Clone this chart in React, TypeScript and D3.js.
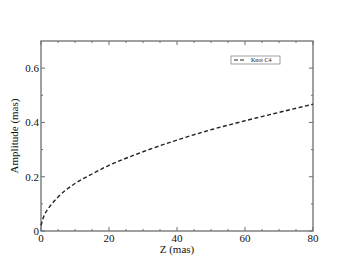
import { useEffect, useRef } from 'react';
import * as d3 from 'd3';

// Knot C4 amplitude profile
const zValues = [0, 1, 2, 5, 10, 15, 20, 25, 30, 40, 50, 60, 70, 80];
const amplitudeValues = [0.02, 0.06, 0.08, 0.125, 0.175, 0.21, 0.242, 0.268, 0.292, 0.335, 0.373, 0.406, 0.437, 0.467];
const xTicks = [0, 20, 40, 60, 80];
const yTicks = [0, 0.2, 0.4, 0.6];
const seriesName = 'Knot C4';

const W = 353;
const H = 273;
const FONT = '"Liberation Serif", "DejaVu Serif", serif';
const FRAME = '#6e6e6e';

export default function App() {
  const svgRef = useRef<SVGSVGElement>(null);

  useEffect(() => {
    if (!svgRef.current) return;
    const margin = { top: 41, right: 40, bottom: 42, left: 41 };
    const width = W - margin.left - margin.right;
    const height = H - margin.top - margin.bottom;

    const svg = d3.select(svgRef.current);
    svg.selectAll('*').remove();
    svg.append('rect').attr('width', W).attr('height', H).attr('fill', '#fff');

    const g = svg.append('g').attr('transform', `translate(${margin.left},${margin.top})`);

    const x = d3.scaleLinear().domain([0, 80]).range([0, width]);
    const y = d3.scaleLinear().domain([0, 0.7]).range([height, 0]);

    const majorLen = 4;
    const minorLen = 2;
    const xMinor = d3.range(0, 81, 5).filter(v => v % 20 !== 0);
    const yMinor = [0.1, 0.3, 0.5];

    // inward ticks on all four sides
    const ticks = g.append('g').attr('stroke', FRAME).attr('stroke-width', 1);
    const addX = (vals: number[], len: number) => {
      vals.forEach(v => {
        ticks.append('line').attr('x1', x(v)).attr('x2', x(v)).attr('y1', height).attr('y2', height - len);
        ticks.append('line').attr('x1', x(v)).attr('x2', x(v)).attr('y1', 0).attr('y2', len);
      });
    };
    const addY = (vals: number[], len: number) => {
      vals.forEach(v => {
        ticks.append('line').attr('y1', y(v)).attr('y2', y(v)).attr('x1', 0).attr('x2', len);
        ticks.append('line').attr('y1', y(v)).attr('y2', y(v)).attr('x1', width).attr('x2', width - len);
      });
    };
    addX(xTicks, majorLen);
    addX(xMinor, minorLen);
    addY(yTicks, majorLen);
    addY(yMinor, minorLen);

    g.append('rect')
      .attr('width', width)
      .attr('height', height)
      .attr('fill', 'none')
      .attr('stroke', FRAME)
      .attr('stroke-width', 1.3);

    // tick labels
    g.selectAll('.xl')
      .data(xTicks)
      .enter()
      .append('text')
      .attr('x', d => x(d))
      .attr('y', height + 11)
      .attr('text-anchor', 'middle')
      .attr('font-family', FONT)
      .attr('font-size', 11)
      .attr('fill', '#111')
      .text(d => d);

    g.selectAll('.yl')
      .data(yTicks)
      .enter()
      .append('text')
      .attr('x', -2)
      .attr('y', d => y(d) + 4)
      .attr('text-anchor', 'end')
      .attr('font-family', FONT)
      .attr('font-size', 11)
      .attr('fill', '#111')
      .text(d => (d === 0 ? '0' : d.toFixed(1)));

    // axis titles
    g.append('text')
      .attr('x', width / 2)
      .attr('y', height + 22)
      .attr('text-anchor', 'middle')
      .attr('font-family', FONT)
      .attr('font-size', 11)
      .attr('fill', '#111')
      .text('Z (mas)');

    g.append('text')
      .attr('transform', `translate(${-23},${height / 2}) rotate(-90)`)
      .attr('text-anchor', 'middle')
      .attr('font-family', FONT)
      .attr('font-size', 11)
      .attr('fill', '#111')
      .text('Amplitude (mas)');

    // the curve
    const pts = zValues.map((z, i) => [z, amplitudeValues[i]] as [number, number]);
    const line = d3.line<[number, number]>()
      .x(d => x(d[0]))
      .y(d => y(d[1]))
      .curve(d3.curveMonotoneX);

    g.append('path')
      .datum(pts)
      .attr('d', line)
      .attr('fill', 'none')
      .attr('stroke', '#222')
      .attr('stroke-width', 1.4)
      .attr('stroke-dasharray', '4,2.5');

    // legend
    const lg = svg.append('g').attr('transform', 'translate(231,56)');
    lg.append('rect')
      .attr('width', 49)
      .attr('height', 8)
      .attr('fill', '#fff')
      .attr('stroke', '#888')
      .attr('stroke-width', 0.8);
    lg.append('line')
      .attr('x1', 3)
      .attr('x2', 15)
      .attr('y1', 4)
      .attr('y2', 4)
      .attr('stroke', '#222')
      .attr('stroke-width', 1.2)
      .attr('stroke-dasharray', '4,2');
    lg.append('text')
      .attr('x', 20)
      .attr('y', 6.2)
      .attr('font-family', FONT)
      .attr('font-size', 6)
      .attr('fill', '#111')
      .text(seriesName);
  }, []);

  return (
    <svg
      ref={svgRef}
      width={W}
      height={H}
      style={{ position: 'absolute', left: 0, top: 0, display: 'block' }}
    />
  );
}
